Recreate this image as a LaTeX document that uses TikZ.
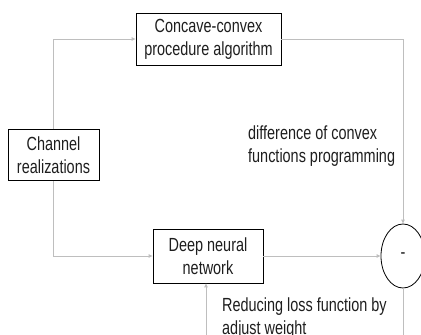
\documentclass[tikz,border=0pt]{standalone}
\usepackage{fontspec}
\setmainfont{Liberation Sans}[FakeStretch=0.76]
\usepackage{xcolor}
\usetikzlibrary{arrows.meta,shapes.geometric}
\definecolor{linegray}{RGB}{190,190,190}
\definecolor{textdark}{RGB}{30,30,30}

\begin{document}
\begin{tikzpicture}[
  x=1pt, y=-1pt,
  box/.style={draw=black, line width=0.8pt, inner sep=0pt, align=center,
    font=\fontsize{19}{23}\selectfont, text=textdark},
  sumnode/.style={ellipse, draw=black, line width=0.8pt, inner sep=0pt,
    minimum width=44pt, minimum height=64pt,
    font=\fontsize{19}{23}\selectfont, text=textdark},
  note/.style={align=left, anchor=west, inner sep=2pt,
    font=\fontsize{19}{23}\selectfont, text=textdark},
  conn/.style={draw=linegray, line width=0.9pt,
    -{Triangle[length=4pt,width=3.5pt]}},
]
  \clip (0,0) rectangle (421,335);

  % Blocks
  \node[box, minimum width=145pt, minimum height=52pt] (cccp) at (208.5,39)
    {Concave-convex\\procedure algorithm};
  \node[box, minimum width=91pt, minimum height=51pt] (chan) at (53.5,155)
    {Channel\\realizations};
  \node[box, minimum width=110pt, minimum height=54pt] (dnn) at (208,256)
    {Deep neural\\network};
  \node[sumnode] (minus) at (403,256) {-};

  % Labels
  \node[note] (dcp) at (246,146) {difference of convex\\functions programming};
  \node[note] (loss) at (220,318) {Reducing loss function by\\adjust weight};

  % Connectors
  \draw[conn] (chan.north) |- (cccp.west);
  \draw[conn] (cccp.east) -| (minus.north);
  \draw[conn] (chan.south) |- (dnn.west);
  \draw[conn] (dnn.east) -- (minus.west);
  \coordinate (loopin) at ([xshift=-2pt]dnn.south);
  \draw[conn] (minus.south) -- ++(0,120) -| (loopin);
\end{tikzpicture}
\end{document}
